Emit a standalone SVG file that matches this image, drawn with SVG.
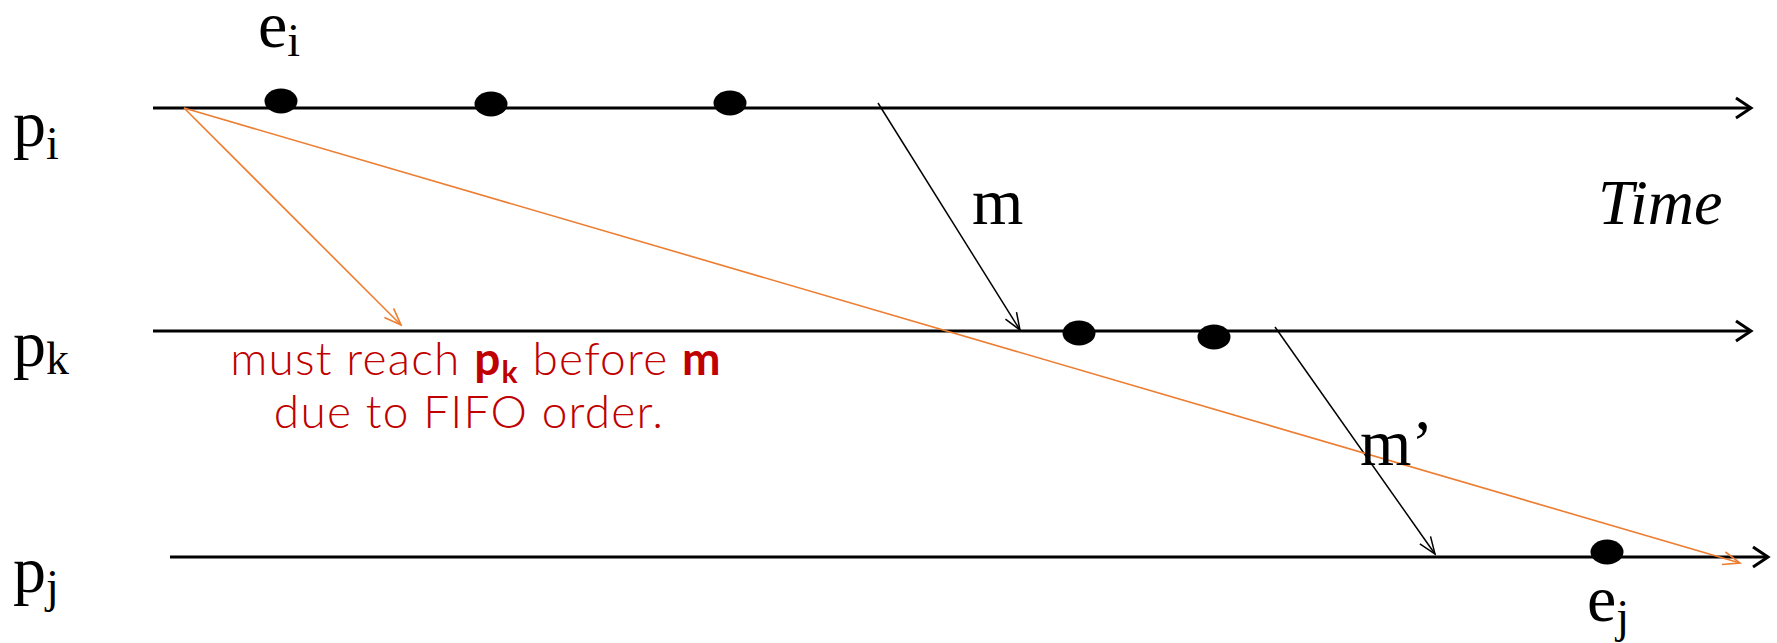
<svg xmlns="http://www.w3.org/2000/svg" width="1777" height="643" viewBox="0 0 1777 643">
<style>
.bg{fill:#ffffff}
.tl{stroke:#000;stroke-width:3;fill:none}
.msg{stroke:#000;stroke-width:1.5;fill:none}
.fifo{stroke:#ED7D31;stroke-width:1.6;fill:none}
.ev{fill:#000}
.lbl{font-family:"Liberation Serif","Times New Roman",serif;font-size:66px;fill:#000}
.sub{font-size:46px}
.it{font-style:italic;font-size:64px}
.note{font-family:Lato,"Open Sans","Liberation Sans",sans-serif;font-size:46px;font-weight:300;letter-spacing:1.2px;fill:#C00000;text-anchor:middle}
.b{font-weight:bold}
</style>
<defs>
<marker id="ah" markerUnits="userSpaceOnUse" markerWidth="24" markerHeight="24" viewBox="0 0 24 24" refX="21" refY="12" orient="auto">
<path d="M6,2 L21,12 L6,22" fill="none" stroke="#000" stroke-width="3"/>
</marker>
<marker id="am" markerUnits="userSpaceOnUse" markerWidth="22" markerHeight="16" viewBox="0 0 22 16" refX="20" refY="8" orient="auto">
<path d="M3,1.5 L20,8 L3,14.5" fill="none" stroke="#000" stroke-width="1.5"/>
</marker>
<marker id="ao" markerUnits="userSpaceOnUse" markerWidth="22" markerHeight="16" viewBox="0 0 22 16" refX="20" refY="8" orient="auto">
<path d="M3,1.5 L20,8 L3,14.5" fill="none" stroke="#ED7D31" stroke-width="1.6"/>
</marker>
</defs>
<rect class="bg" x="0" y="0" width="1777" height="643"/>

<g id="pi">
<line class="tl" x1="153" y1="108" x2="1751" y2="108" marker-end="url(#ah)"/>
<text class="lbl" x="13" y="146">p<tspan class="sub" dy="13">i</tspan></text>
</g>
<g id="pk">
<line class="tl" x1="153" y1="331" x2="1751" y2="331" marker-end="url(#ah)"/>
<text class="lbl" x="13" y="366">p<tspan class="sub" dy="8">k</tspan></text>
</g>
<g id="pj">
<line class="tl" x1="170" y1="557" x2="1768" y2="557" marker-end="url(#ah)"/>
<text class="lbl" x="13" y="592">p<tspan class="sub" dy="10">j</tspan></text>
</g>

<g id="events">
<ellipse class="ev" cx="281" cy="101" rx="16.5" ry="12.5"/>
<ellipse class="ev" cx="491" cy="104" rx="16.5" ry="12.5"/>
<ellipse class="ev" cx="730" cy="103" rx="16.5" ry="12.5"/>
<ellipse class="ev" cx="1079" cy="333" rx="16.5" ry="12.5"/>
<ellipse class="ev" cx="1214" cy="337" rx="16.5" ry="12.5"/>
<ellipse class="ev" cx="1607" cy="552" rx="16.5" ry="12.5"/>
</g>

<g id="connectors">
<line class="msg" x1="878" y1="103" x2="1020" y2="330" marker-end="url(#am)"/>
<line class="msg" x1="1275" y1="327" x2="1435" y2="554" marker-end="url(#am)"/>
<line class="fifo" x1="184" y1="108" x2="401" y2="325" marker-end="url(#ao)"/>
<line class="fifo" x1="184" y1="108" x2="1740" y2="563" marker-end="url(#ao)"/>
</g>

<g id="labels">
<text class="lbl" x="258" y="47">e<tspan class="sub" dy="9">i</tspan></text>
<text class="lbl" x="1587" y="621">e<tspan class="sub" dy="11">j</tspan></text>
<text class="lbl" x="972" y="224">m</text>
<text class="lbl it" x="1598" y="224">Time</text>
<text class="lbl" x="1360" y="465">m’</text>
</g>

<g id="note">
<text class="note" x="476" y="375">must reach <tspan class="b">p</tspan><tspan class="b" font-size="30" dy="8">k</tspan><tspan dy="-8"> before </tspan><tspan class="b">m</tspan></text>
<text class="note" x="469" y="428">due to FIFO order.</text>
</g>
</svg>
